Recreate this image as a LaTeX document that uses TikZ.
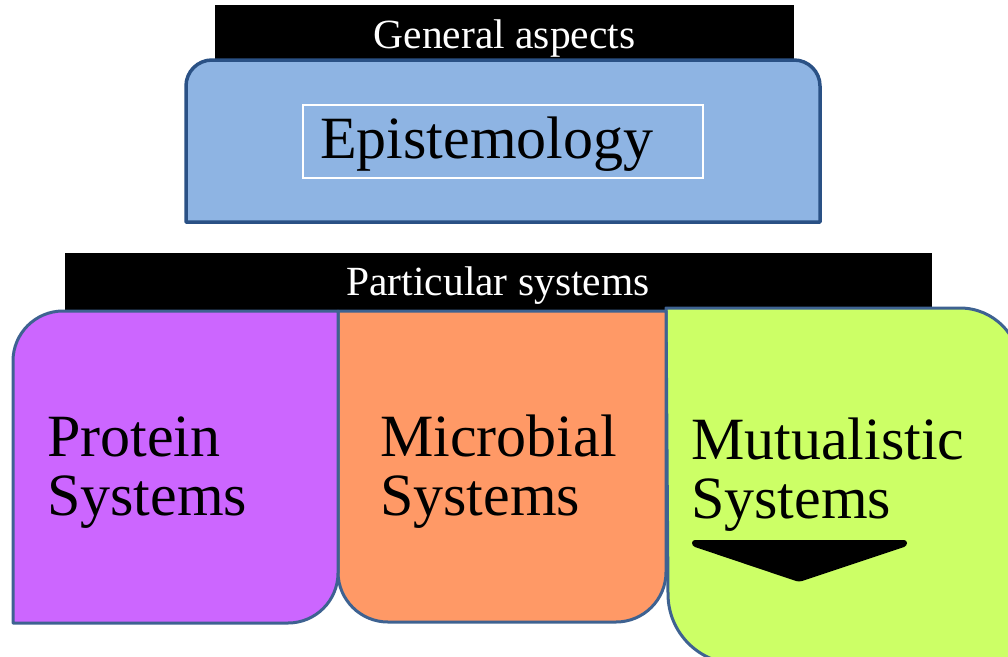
\documentclass[tikz,border=0pt]{standalone}
\usepackage{fontspec}
\setmainfont{Liberation Serif}
\definecolor{bluefill}{HTML}{8EB4E3}
\definecolor{blueedge}{HTML}{2A5185}
\definecolor{boxedge}{HTML}{3E6291}
\definecolor{purplefill}{HTML}{CC66FF}
\definecolor{orangefill}{HTML}{FF9966}
\definecolor{greenfill}{HTML}{CCFF66}
\begin{document}
\begin{tikzpicture}[x=1pt,y=-1pt,
  headbar/.style={fill=black},
  headtext/.style={text=white,inner sep=0pt,anchor=base,
    font=\fontsize{41.5}{45}\selectfont},
  bigtext/.style={inner sep=0pt,anchor=base west,align=left,
    font=\fontsize{60}{59}\selectfont},
  panel/.style={draw=boxedge,line width=3pt,line join=round}]
\useasboundingbox (0,0) rectangle (1008,656);

% upper group: header bar and the general box
\fill[headbar] (215,5) rectangle (794,70);
\draw[draw=blueedge,line width=3.5pt,fill=bluefill,line join=round]
  (186,222) -- (186,86) arc[start angle=180,end angle=270,radius=26]
  -- (794,60) arc[start angle=270,end angle=360,radius=26]
  -- (820,222) -- cycle;
\node[headtext] (general) at (504.5,48) {General aspects};
\draw[white,line width=1.3pt] (303,105) rectangle (703,178);
\node[bigtext] (episteme) at (320,158) {Epistemology};

% lower group: header bar and the three system panels
\fill[headbar] (65,253) rectangle (932,318);
\draw[panel,fill=greenfill]
  (666,308) -- (960,308) arc[start angle=270,end angle=360,radius=60]
  -- (1020,664) -- (738,664) arc[start angle=90,end angle=180,radius=70]
  -- cycle;
\draw[panel,fill=orangefill]
  (338,311) -- (666,311) -- (666,572) arc[start angle=0,end angle=90,radius=50]
  -- (388,622) arc[start angle=90,end angle=180,radius=50] -- cycle;
\draw[panel,fill=purplefill]
  (13,623) -- (13,361) arc[start angle=180,end angle=270,radius=50]
  -- (338,311) -- (338,573) arc[start angle=0,end angle=90,radius=50]
  -- cycle;
\node[headtext] (particular) at (498,295) {Particular systems};

% two-line labels, placed by the baseline of their second line
\node[bigtext] (protein) at (47,515) {Protein\\Systems};
\node[bigtext] (microbial) at (380,515) {Microbial\\Systems};
\node[bigtext] (mutual) at (691,518) {Mutualistic\\Systems};

% downward pointer under the mutualistic label
\fill[black,rounded corners=3pt]
  (692,540) -- (907,540) -- (907,546) -- (799,582) -- (692,546) -- cycle;
\end{tikzpicture}
\end{document}
